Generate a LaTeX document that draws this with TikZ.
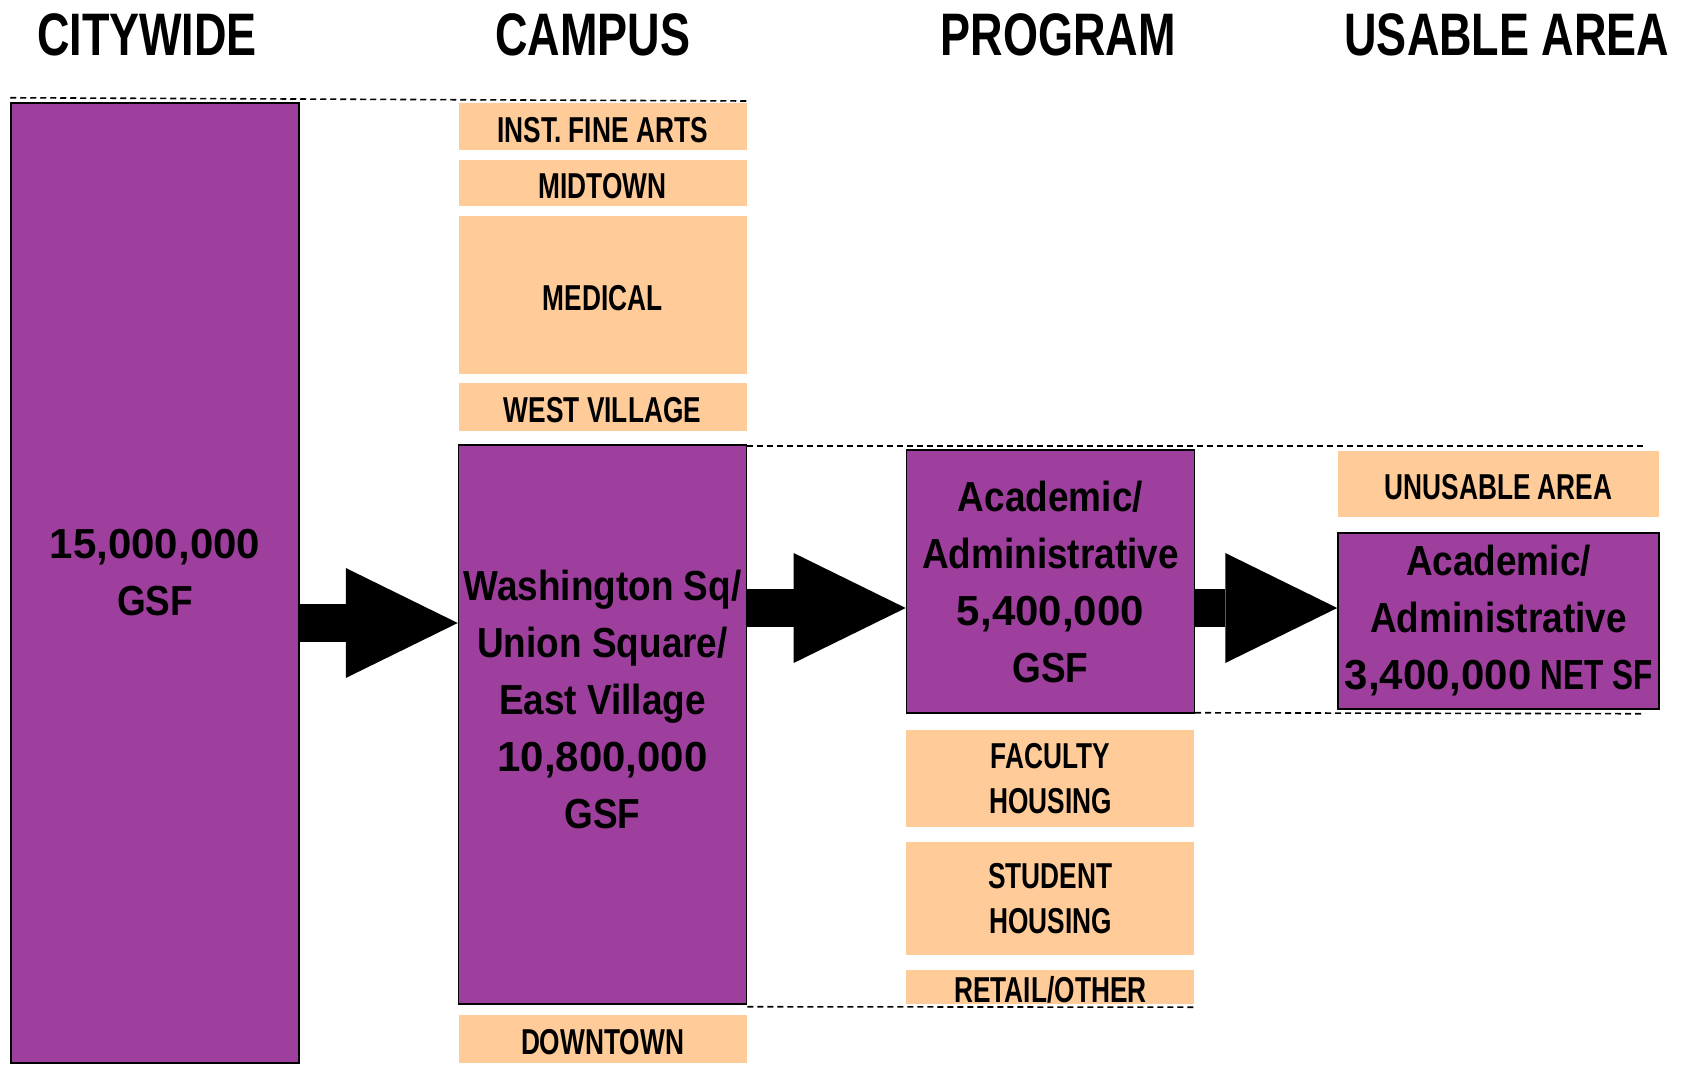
\documentclass[tikz,border=0pt]{standalone}
\usepackage{fontspec}
\setmainfont{Liberation Sans}
\newfontfamily\headfont{Liberation Sans}[FakeStretch=0.75]
\newfontfamily\labelfont{Liberation Sans}[FakeStretch=0.73]
\newfontfamily\boxfont{Liberation Sans}[FakeStretch=0.88]
\newfontfamily\numfont{Liberation Sans}
\usetikzlibrary{arrows.meta,positioning,calc}
\definecolor{areapurple}{RGB}{158,63,157}
\definecolor{areaorange}{RGB}{255,204,153}

\begin{document}
\begin{tikzpicture}[x=1pt, y=-1pt,
    heading/.style={font=\headfont\bfseries\fontsize{60}{64}\selectfont, inner sep=0pt, anchor=base},
    purplebox/.style={draw=black, line width=1.5pt, fill=areapurple, inner sep=0pt, minimum width=288pt},
    purpletext/.style={font=\boxfont\bfseries\fontsize{42}{57}\selectfont, align=center, inner sep=0pt},
    orangebox/.style={fill=areaorange, inner sep=0pt, minimum width=288pt, align=center, font=\labelfont\bfseries\fontsize{36}{45}\selectfont},
    oneline/.style={text height=31pt, text depth=0pt},
    guide/.style={dash pattern=on 6pt off 4pt, line width=1.6pt},
    bigarrow/.style={line width=38pt, -{Triangle[length=112pt,width=110pt,line width=0pt]}}
  ]
    \useasboundingbox (0,0) rectangle (1684,1065);

    % Column headings
    \node[heading] (hcity) at (147,56) {CITYWIDE};
    \node[heading] (hcampus) at (593,56) {CAMPUS};
    \node[heading] (hprogram) at (1058,56) {PROGRAM};
    \node[heading] (husable) at (1507,56) {USABLE AREA};

    % Citywide
    \node[purplebox, minimum height=960pt] (city) at (155,583) {};
    \node[purpletext] (citytext) at ([yshift=10pt]city.center) {{\numfont 15,000,000}\\GSF};

    % Campus
    \node[orangebox, oneline, minimum height=47pt] (finearts) at (602.5,126.7) {INST. FINE ARTS};
    \node[orangebox, oneline, minimum height=46pt] (midtown) at (602.5,183) {MIDTOWN};
    \node[orangebox, oneline, minimum height=158pt] (medical) at (602.5,295) {MEDICAL};
    \node[orangebox, oneline, minimum height=48pt] (westvillage) at (602.5,407) {WEST VILLAGE};
    \node[purplebox, minimum height=559pt] (wsq) at (602.5,724.5) {};
    \node[purpletext] (wsqtext) at ([yshift=25pt]wsq.center) {Washington Sq/\\Union Square/\\East Village\\{\numfont 10,800,000}\\GSF};
    \node[orangebox, oneline, minimum height=48pt] (downtown) at (602.5,1039) {DOWNTOWN};

    % Program
    \node[purplebox, minimum height=263pt, purpletext] (academic) at (1050.4,581.5) {Academic/\\Administrative\\{\numfont 5,400,000}\\GSF};
    \node[orangebox, minimum height=97pt] (faculty) at (1050.4,778.5) {FACULTY\\HOUSING};
    \node[orangebox, minimum height=113pt] (student) at (1050.4,898.5) {STUDENT\\HOUSING};
    \node[orangebox, oneline, minimum height=34pt] (retail) at (1050.4,987) {RETAIL/OTHER};

    % Usable area
    \node[orangebox, oneline, minimum width=321pt, minimum height=66pt] (unusable) at (1498.5,484) {UNUSABLE AREA};
    \node[purplebox, minimum width=321pt, minimum height=176pt, purpletext] (netarea) at (1498.5,621) {Academic/\\Administrative\\{\numfont 3,400,000}{\headfont\ NET SF}};

    % Guide lines
    \draw[guide] ([yshift=4.5pt]city.north west) -- ([yshift=2pt]finearts.north east);
    \draw[guide] ([yshift=-2pt]wsq.north east) -- ++(897,0);
    \draw[guide] ([yshift=-2pt]wsq.south east) -- ([yshift=-3pt]retail.south east);
    \draw[guide] ([yshift=1pt]academic.south east) -- ++(449,1);

    % Arrows
    \draw[bigarrow] (city.east |- 0,623) -- (wsq.west |- 0,623);
    \draw[bigarrow] (wsq.east |- 0,608) -- (academic.west |- 0,608);
    \draw[bigarrow] (academic.east |- 0,608) -- (netarea.west |- 0,608);
\end{tikzpicture}
\end{document}
